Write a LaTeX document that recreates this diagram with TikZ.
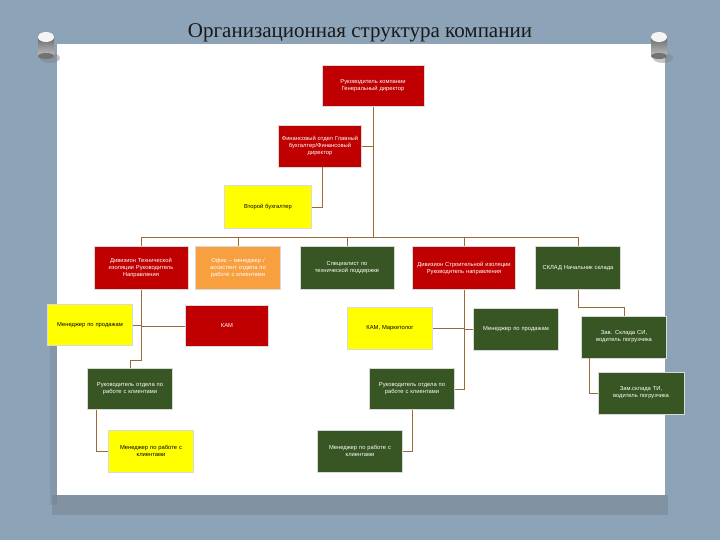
\documentclass[tikz,border=0pt]{standalone}
\usepackage{fontspec}
\setmainfont{Liberation Sans}
\newfontfamily\titlefont{Liberation Serif}
\usetikzlibrary{shadings}
\definecolor{bgblue}{HTML}{8DA3B7}
\definecolor{boxred}{HTML}{C00000}
\definecolor{boxgreen}{HTML}{375623}
\definecolor{boxyellow}{HTML}{FFFF00}
\definecolor{boxorange}{HTML}{F8A040}
\definecolor{linkc}{HTML}{9A6A3C}
\tikzset{
  box/.style={rectangle, draw=black!15, line width=0.8pt, align=center,
    inner sep=1pt, minimum width=85pt, minimum height=42pt, text width=72pt,
    font=\fontsize{5.8}{7}\selectfont},
  redbox/.style={box, fill=boxred, text=white},
  greenbox/.style={box, fill=boxgreen, text=white},
  yellowbox/.style={box, fill=boxyellow, text=black},
  orangebox/.style={box, fill=boxorange, text=white},
  link/.style={draw=linkc, line width=0.6pt},
  pin/.style={shading=axis, left color=black!60, right color=black!25, shading angle=0}
}
\begin{document}
\begin{tikzpicture}[x=1pt,y=-1pt]
\useasboundingbox (0,0) rectangle (720,540);
\fill[bgblue] (0,0) rectangle (720,540);
% panel shadow
\fill[black!70, opacity=0.18] (52,495) rectangle (668,515);
\fill[black!70, opacity=0.12] (50,330) rectangle (57,505);
% panel
\fill[white] (57,44) rectangle (665,495);
% pins
\foreach \px in {46,659} {
  \fill[black!50, opacity=0.45] (\px+4,58) ellipse (10pt and 5pt);
  \fill[pin] (\px-8,36) rectangle (\px+8,56);
  \fill[black!55] (\px,56) ellipse (8pt and 3pt);
  \fill[white!92!gray] (\px,37) ellipse (8pt and 5pt);
}
\node[font=\titlefont\fontsize{21}{24}\selectfont, text=black!90] (title) at (360,33) {Организационная структура компании};

% nodes
\node[redbox, minimum width=102pt, text width=80pt, minimum height=41pt] (ceo) at (373,86) {Руководитель компании\\Генеральный директор};
\node[redbox, minimum width=83pt, text width=80pt] (fin) at (320,146) {Финансовый отдел Главный бухгалтер/Финансовый директор};
\node[yellowbox, minimum width=87pt, minimum height=43pt] (buh) at (268,207) {Второй бухгалтер};

\node[redbox, minimum width=94pt, text width=76pt, minimum height=43pt] (divT) at (141,268) {Дивизион Технической изоляции Руководитель Направления};
\node[orangebox, minimum height=43pt, text width=80pt] (ofis) at (238,268) {Офис – менеджер / ассистент отдела по работе с клиентами};
\node[greenbox, minimum width=94pt, text width=80pt, minimum height=43pt] (spec) at (347,268) {Специалист по технической поддержке};
\node[redbox, minimum width=103pt, text width=100pt, minimum height=43pt] (divS) at (464,268) {Дивизион Строительной изоляции Руководитель направления};
\node[greenbox, minimum height=43pt, text width=82pt] (sklad) at (578,268) {СКЛАД Начальник склада};

\node[yellowbox, minimum height=41pt, text width=82pt] (mgr1) at (90,325) {Менеджер по продажам};
\node[redbox, minimum width=83pt, minimum height=41pt] (kam) at (227,326) {КАМ};
\node[yellowbox] (kamm) at (390,328) {КАМ, Маркетолог};
\node[greenbox, text width=82pt] (mgr2) at (516,329) {Менеджер по продажам};
\node[greenbox, text width=76pt] (zav1) at (624,337) {Зав. Склада СИ, водитель погрузчика};

\node[greenbox, minimum height=41pt] (ro1) at (130,389) {Руководитель отдела по\\работе с клиентами};
\node[greenbox, minimum height=41pt] (ro2) at (412,389) {Руководитель отдела по\\работе с клиентами};
\node[greenbox, minimum width=86pt, text width=76pt] (zav2) at (641,393) {Зам.склада ТИ, водитель погрузчика};

\node[yellowbox] (mc1) at (151,451) {Менеджер по работе с\\клиентами};
\node[greenbox] (mc2) at (360,451) {Менеджер по работе с\\клиентами};

% connectors
\coordinate (busL) at (141,237);
\coordinate (busR) at (578,237);
\draw[link] (ceo.south) -- (ceo.south |- busL);
\draw[link] (busL) -- (busR);
\foreach \n in {divT,ofis,spec,divS,sklad} \draw[link] (\n.north |- busL) -- (\n.north);
\draw[link] (fin.east) -- (fin.east -| ceo.south);
\draw[link] ([xshift=2pt]fin.south) |- (buh.east);

\draw[link] (divT.south) -- ++(0,70) -| (ro1.north);
\draw[link] (mgr1.east) -- (mgr1.east -| divT.south);
\draw[link] (kam.west) -- (kam.west -| divT.south);
\draw[link] ([xshift=9pt]ro1.south west) |- (mc1.west);

\draw[link] (divS.south) |- (ro2.east);
\draw[link] (kamm.east) -- (kamm.east -| divS.south);
\draw[link] (mgr2.west) -- (mgr2.west -| divS.south);
\draw[link] (ro2.south) |- (mc2.east);

\draw[link] (sklad.south) -- ++(0,17) -| (zav1.north);
\draw[link] ([xshift=8pt]zav1.south west) |- (zav2.west);
\end{tikzpicture}
\end{document}
